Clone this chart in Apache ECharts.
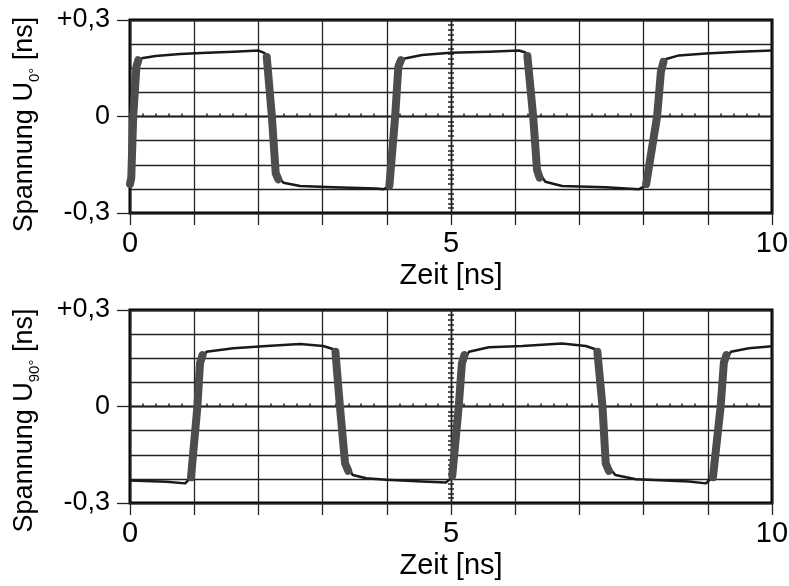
<!DOCTYPE html>
<html>
<head>
<meta charset="utf-8">
<script src="https://cdn.jsdelivr.net/npm/echarts@6/dist/echarts.min.js"></script>
<style>
  html, body { margin: 0; padding: 0; background: #fff; }
  #chart { width: 789px; height: 586px; }
</style>
</head>
<body>
<div id="chart"></div>
<script>
// U0° trace (time in ns, voltage)
const u0Time = [0.00, 0.02, 0.05, 0.10, 0.18, 0.40, 0.78, 1.20, 1.61, 2.00, 2.10, 2.14, 2.21, 2.27, 2.39, 2.65, 3.17, 3.84, 3.95, 4.03,
                4.13, 4.18, 4.24, 4.55, 4.99, 5.59, 6.06, 6.16, 6.21, 6.28, 6.34, 6.47, 6.73, 7.41, 7.93, 8.03, 8.21, 8.27, 8.34, 8.55, 8.97, 9.50, 10.0];
const u0Volt = [-0.21, -0.19, 0.00, 0.155, 0.181, 0.188, 0.194, 0.198, 0.201, 0.205, 0.197, 0.175, 0.00, -0.177, -0.206, -0.216, -0.220, -0.224, -0.226, -0.218,
                0.00, 0.155, 0.179, 0.191, 0.198, 0.201, 0.205, 0.199, 0.178, 0.00, -0.166, -0.203, -0.216, -0.220, -0.226, -0.215, 0.00, 0.14, 0.178, 0.190, 0.196, 0.201, 0.205];
// jittery switching edges (null = gap)
const u0EdgeTime = [0.00, 0.02, 0.05, 0.10, 0.13, null, 2.13, 2.21, 2.27, 2.31, null, 4.04, 4.13, 4.18, 4.22, null,
                    6.19, 6.28, 6.34, 6.38, null, 8.04, 8.21, 8.27, 8.31];
const u0EdgeVolt = [-0.21, -0.19, 0.00, 0.155, 0.175, null, 0.185, 0.00, -0.177, -0.195, null, -0.215, 0.00, 0.155, 0.175, null,
                    0.188, 0.00, -0.166, -0.19, null, -0.21, 0.00, 0.14, 0.17];

// U90° trace
const u90Time = [0.00, 0.57, 0.86, 0.95, 1.05, 1.09, 1.19, 1.61, 2.13, 2.65, 3.01, 3.17, 3.22, 3.27, 3.35, 3.47, 3.68, 3.99, 4.55, 4.92,
                 4.99, 5.12, 5.17, 5.28, 5.59, 6.11, 6.73, 7.10, 7.25, 7.30, 7.36, 7.41, 7.56, 7.88, 8.71, 8.97, 9.07, 9.20, 9.25, 9.36, 9.64, 10.0];
const u90Volt = [-0.230, -0.234, -0.239, -0.220, 0.00, 0.134, 0.170, 0.181, 0.188, 0.194, 0.188, 0.178, 0.164, 0.00, -0.177, -0.213, -0.223, -0.228, -0.233, -0.236,
                 -0.225, 0.00, 0.134, 0.170, 0.184, 0.188, 0.196, 0.188, 0.178, 0.164, 0.00, -0.177, -0.213, -0.226, -0.233, -0.239, -0.220, 0.00, 0.136, 0.170, 0.181, 0.187];
const u90EdgeTime = [0.95, 1.05, 1.09, 1.13, null, 3.20, 3.27, 3.35, 3.40, null, 5.02, 5.12, 5.17, 5.21, null,
                     7.28, 7.36, 7.41, 7.46, null, 9.08, 9.20, 9.25, 9.29];
const u90EdgeVolt = [-0.22, 0.00, 0.134, 0.16, null, 0.17, 0.00, -0.177, -0.20, null, -0.215, 0.00, 0.134, 0.16, null,
                     0.17, 0.00, -0.177, -0.20, null, -0.22, 0.00, 0.136, 0.16];

const xLabelValues = [0, 5, 10];
const yTickLabels = ['-0,3', '0', '+0,3'];
const xName = 'Zeit [ns]';
const yNames = ['Spannung U{sub|0°} [ns]', 'Spannung U{sub|90°} [ns]'];

const FONT = '"Liberation Sans", Arial, sans-serif';
const INK = '#222';
const gridTops = [20, 310];
const namePad = [16, 28];   // pushes the rotated y names down a little

function pairs(ts, vs) {
  return ts.map((t, i) => t === null ? ['-', '-'] : [t, vs[i]]);
}

const grids = [];
const xAxes = [];
const yAxes = [];

// main plot frames with grid lines, labels, names
gridTops.forEach((top, g) => {
  grids.push({ left: 130, top: top, width: 642, height: 193, show: true,
    borderColor: '#000', borderWidth: 3, outerBoundsMode: 'none' });
  xAxes.push({
    type: 'value', gridIndex: g, min: 0, max: 10, interval: 1,
    axisLine: { show: false, onZero: false },
    axisTick: { show: true, length: 12, lineStyle: { color: INK, width: 1.3 } },
    axisLabel: { margin: 16, fontSize: 29, color: '#000', fontFamily: FONT,
      showMinLabel: true, showMaxLabel: true, alignMinLabel: 'center', alignMaxLabel: 'center',
      formatter: v => xLabelValues.includes(v) ? String(v) : '' },
    splitLine: { show: true, lineStyle: { color: INK, width: 1.3 } },
    name: xName, nameLocation: 'middle', nameGap: 48, nameMoveOverlap: false,
    nameTextStyle: { fontSize: 29, color: '#000', fontFamily: FONT }
  });
  // grid-line axis
  yAxes.push({
    type: 'value', gridIndex: g, position: 'left', min: -0.3, max: 0.3, interval: 0.075,
    axisLine: { show: false, onZero: false }, axisTick: { show: false }, axisLabel: { show: false },
    splitLine: { show: true, lineStyle: { color: INK, width: 1.3 } }
  });
  // label axis
  yAxes.push({
    type: 'value', gridIndex: g, position: 'left', min: -0.3, max: 0.3, interval: 0.3,
    axisLine: { show: false, onZero: false },
    axisTick: { show: true, length: 13, lineStyle: { color: INK, width: 1.3 } },
    axisLabel: { margin: 20, fontSize: 27, color: '#000', fontFamily: FONT,
      showMinLabel: true, showMaxLabel: true,
      formatter: v => yTickLabels[Math.round(v / 0.3) + 1] },
    splitLine: { show: false },
    name: yNames[g], nameLocation: 'middle', nameGap: 88, nameMoveOverlap: false,
    nameTextStyle: { fontSize: 27, color: '#000', fontFamily: FONT, lineHeight: 34,
      padding: [0, namePad[g], 0, 0],
      rich: { sub: { fontSize: 15, lineHeight: 15, verticalAlign: 'bottom', color: '#000', fontFamily: FONT } } }
  });
});

// centre cross with fine divisions
gridTops.forEach((top, g) => {
  const gi = grids.length;
  grids.push({ left: 130, top: top, width: 642, height: 193, show: false, outerBoundsMode: 'none' });
  [true, false].forEach(inside => {
    xAxes.push({
      type: 'value', gridIndex: gi, min: -5, max: 5, interval: 1,
      axisLine: { show: true, onZero: true, lineStyle: { color: INK, width: 1.3 } },
      axisTick: { show: false, inside: inside },
      minorTick: { show: true, splitNumber: 5, length: 3, lineStyle: { color: INK, width: 1.5 } },
      axisLabel: { show: false }, splitLine: { show: false }
    });
    yAxes.push({
      type: 'value', gridIndex: gi, position: 'left', min: -0.3, max: 0.3, interval: 0.075,
      axisLine: { show: true, onZero: true, lineStyle: { color: INK, width: 1.3 } },
      axisTick: { show: false, inside: inside },
      minorTick: { show: true, splitNumber: 5, length: 3, lineStyle: { color: INK, width: 1.5 } },
      axisLabel: { show: false }, splitLine: { show: false }
    });
  });
});

const traces = [
  { t: u0Time, v: u0Volt, et: u0EdgeTime, ev: u0EdgeVolt },
  { t: u90Time, v: u90Volt, et: u90EdgeTime, ev: u90EdgeVolt }
];
const series = [];
traces.forEach((tr, g) => {
  series.push({
    type: 'line', xAxisIndex: g, yAxisIndex: g * 2, data: pairs(tr.t, tr.v),
    symbol: 'none', silent: true, z: 3,
    lineStyle: { color: '#1a1a1a', width: 2.5, join: 'round' }
  });
  series.push({
    type: 'line', xAxisIndex: g, yAxisIndex: g * 2, data: pairs(tr.et, tr.ev),
    symbol: 'none', silent: true, connectNulls: false, z: 4,
    lineStyle: { color: '#4d4d4d', width: 8, cap: 'round', join: 'round' }
  });
});

const chart = echarts.init(document.getElementById('chart'));
chart.setOption({
  animation: false,
  backgroundColor: '#fff',
  textStyle: { fontFamily: FONT },
  grid: grids,
  xAxis: xAxes,
  yAxis: yAxes,
  series: series
});
</script>
</body>
</html>
